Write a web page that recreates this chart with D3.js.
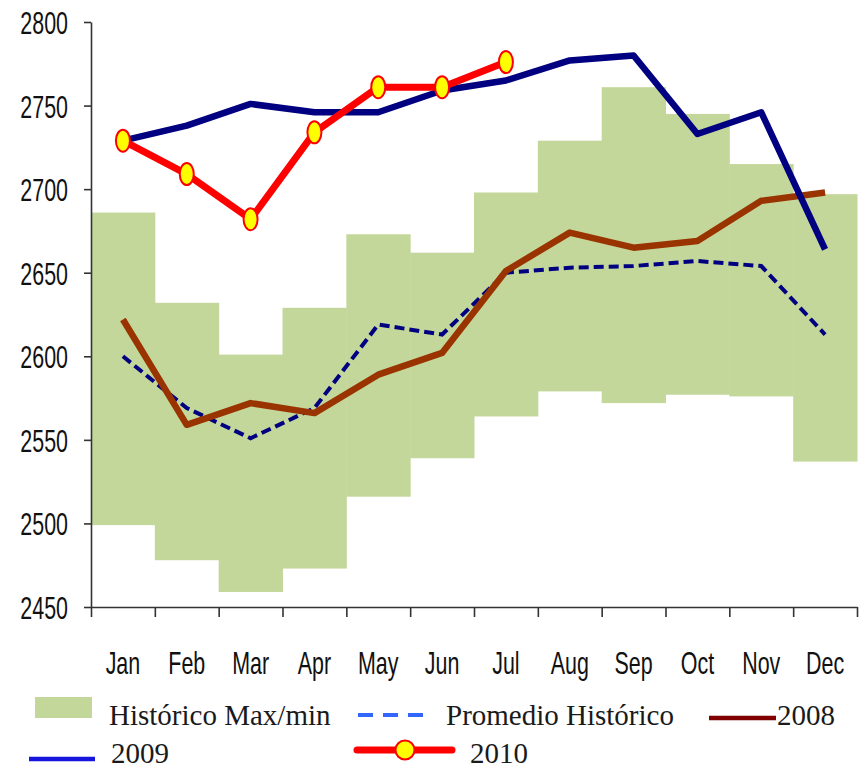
<!DOCTYPE html>
<html>
<head>
<meta charset="utf-8">
<script src="https://cdn.jsdelivr.net/npm/d3@7"></script>
<style>
  body { margin: 0; background: #fff; }
  svg { display: block; }
</style>
</head>
<body>
<svg id="chart" width="865" height="769"></svg>
<script>
// data
const months = ["Jan","Feb","Mar","Apr","May","Jun","Jul","Aug","Sep","Oct","Nov","Dec"];
const histMax = [2686, 2632, 2601, 2629, 2673, 2662, 2698, 2729, 2761, 2745, 2715, 2697];
const histMin = [2499, 2478, 2459, 2473, 2516, 2539, 2564, 2579, 2572, 2577, 2576, 2537];
const promedio = [2600, 2569, 2551, 2569, 2619, 2613, 2650, 2653, 2654, 2657, 2654, 2613];
const y2008 = [2622, 2559, 2572, 2566, 2589, 2602, 2651, 2674, 2665, 2669, 2693, 2698];
const y2009 = [2729, 2738, 2751, 2746, 2746, 2759, 2765, 2777, 2780, 2733, 2746, 2664];
const y2010 = [2729, 2709, 2682, 2734, 2761, 2761, 2776];
const yTicks = [2450, 2500, 2550, 2600, 2650, 2700, 2750, 2800];

const svg = d3.select("#chart");
const squeeze = 0.67; // the original labels are narrow

const x = d3.scaleBand().domain(months).range([91, 857]).paddingInner(0).paddingOuter(0);
const xEdge = d3.scaleLinear().domain([0, 12]).range([91, 857]);
const y = d3.scaleLinear().domain([2450, 2800]).range([607, 22]);
const cx = m => x(m) + x.bandwidth() / 2;

// historic max/min bands
svg.append("g")
  .selectAll("rect")
  .data(months)
  .enter()
  .append("rect")
  .attr("x", d => x(d))
  .attr("width", x.bandwidth() + 0.5)
  .attr("y", (d, i) => y(histMax[i]))
  .attr("height", (d, i) => y(histMin[i]) - y(histMax[i]))
  .attr("fill", "#c4d79b");

const line = d3.line()
  .x(d => cx(d.m))
  .y(d => y(d.v));
const pts = arr => arr.map((v, i) => ({m: months[i], v: v}));

svg.append("path")
  .datum(pts(promedio))
  .attr("d", line)
  .attr("fill", "none")
  .attr("stroke", "#000080")
  .attr("stroke-width", 4)
  .attr("stroke-dasharray", "10,5");

svg.append("path")
  .datum(pts(y2008))
  .attr("d", line)
  .attr("fill", "none")
  .attr("stroke", "#993300")
  .attr("stroke-width", 6.5)
  .attr("stroke-linejoin", "round");

svg.append("path")
  .datum(pts(y2009))
  .attr("d", line)
  .attr("fill", "none")
  .attr("stroke", "#000080")
  .attr("stroke-width", 6.5)
  .attr("stroke-linejoin", "round");

svg.append("path")
  .datum(pts(y2010))
  .attr("d", line)
  .attr("fill", "none")
  .attr("stroke", "#ff0000")
  .attr("stroke-width", 7)
  .attr("stroke-linejoin", "round");

svg.append("g")
  .selectAll("ellipse")
  .data(pts(y2010))
  .enter()
  .append("ellipse")
  .attr("cx", d => cx(d.m))
  .attr("cy", d => y(d.v))
  .attr("rx", 7)
  .attr("ry", 11)
  .attr("fill", "#ffff00")
  .attr("stroke", "#ff0000")
  .attr("stroke-width", 2);

// y axis
const yAxis = svg.append("g")
  .attr("transform", "translate(91,0)")
  .call(d3.axisLeft(y).tickValues(yTicks).tickSize(7).tickSizeOuter(0).tickFormat(d3.format("d")));
yAxis.select(".domain").attr("stroke", "#333").attr("stroke-width", 1.6);
yAxis.selectAll(".tick line").attr("stroke", "#333").attr("stroke-width", 1.6);
yAxis.selectAll(".tick text")
  .attr("x", -23 / squeeze)
  .attr("dy", "0.36em")
  .attr("transform", `scale(${squeeze},1)`)
  .style("font-family", "'Liberation Sans', Arial, sans-serif")
  .style("font-size", "32px")
  .attr("fill", "#111");

// x axis: ticks at month edges, labels at centres
const xTickAxis = svg.append("g")
  .attr("transform", "translate(0,607)")
  .call(d3.axisBottom(xEdge).tickValues(d3.range(13)).tickSize(10).tickSizeOuter(0).tickFormat(""));
xTickAxis.select(".domain").attr("stroke", "#333").attr("stroke-width", 1.6);
xTickAxis.selectAll(".tick line").attr("stroke", "#333").attr("stroke-width", 1.6);

const xLab = svg.append("g")
  .attr("transform", "translate(0,607)")
  .call(d3.axisBottom(x).tickSize(0));
xLab.select(".domain").remove();
xLab.selectAll(".tick text")
  .attr("y", 67)
  .attr("dy", 0)
  .attr("x", 0)
  .attr("transform", `scale(${squeeze},1)`)
  .style("font-family", "'Liberation Sans', Arial, sans-serif")
  .style("font-size", "32px")
  .attr("fill", "#111");

// legend
const legend = svg.append("g").style("font-family", "'Liberation Serif', 'Times New Roman', serif").style("font-size", "29px").attr("fill", "#1a1a1a");

legend.append("rect").attr("x", 35).attr("y", 697).attr("width", 57).attr("height", 21).attr("fill", "#c4d79b");
legend.append("text").attr("x", 109).attr("y", 725).text("Histórico Max/min");

legend.append("line").attr("x1", 358).attr("x2", 425).attr("y1", 715).attr("y2", 715)
  .attr("stroke", "#3366ff").attr("stroke-width", 4).attr("stroke-dasharray", "15,10");
legend.append("text").attr("x", 446).attr("y", 725).text("Promedio Histórico");

legend.append("line").attr("x1", 709).attr("x2", 776).attr("y1", 718).attr("y2", 718)
  .attr("stroke", "#800000").attr("stroke-width", 4.5);
legend.append("text").attr("x", 777).attr("y", 725).text("2008");

legend.append("line").attr("x1", 29).attr("x2", 95).attr("y1", 759).attr("y2", 759)
  .attr("stroke", "#1515dd").attr("stroke-width", 4.5);
legend.append("text").attr("x", 111).attr("y", 763).text("2009");

legend.append("line").attr("x1", 357).attr("x2", 452).attr("y1", 750).attr("y2", 750)
  .attr("stroke", "#ff0000").attr("stroke-width", 7).attr("stroke-linecap", "round");
legend.append("circle").attr("cx", 405).attr("cy", 750).attr("r", 9.5)
  .attr("fill", "#ffff00").attr("stroke", "#ff0000").attr("stroke-width", 2);
legend.append("text").attr("x", 470).attr("y", 763).text("2010");
</script>
</body>
</html>
